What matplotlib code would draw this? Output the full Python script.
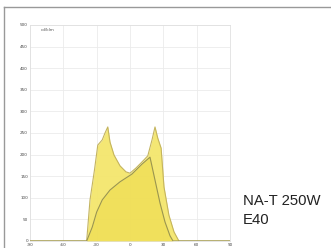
import matplotlib
matplotlib.use('Agg')
import matplotlib.pyplot as plt
from matplotlib.lines import Line2D

# luminous intensity distribution, angles in degrees, values in cd/klm
angles_c0 = [-90, -40, -39, -36, -32, -29, -25, -22.5, -20, -18, -14.4, -9, -3.6, 0,
             5.4, 10.8, 16, 19.8, 22.5, 25, 28, 30.6, 35, 39.6, 44, 45, 90]
values_c0 = [0, 0, 0, 95, 164, 222, 234, 250, 264, 229, 199, 174, 160, 157,
             169, 183, 197, 234, 264, 238, 215, 125, 60, 21, 0, 0, 0]

angles_c90 = [-90, -40, -39, -34, -30, -25, -18, -9, 1.8, 10.8, 18, 22.5, 27, 31.5, 36, 38.7, 40, 90]
values_c90 = [0, 0, 0, 32, 67, 95, 118, 137, 155, 178, 194, 141, 88, 44, 12, 0, 0, 0]

x_ticks = [-90, -60, -30, 0, 30, 60, 90]
y_ticks = [0, 50, 100, 150, 200, 250, 300, 350, 400, 450, 500]

lamp_label = 'NA-T 250W\nE40'

fig = plt.figure(figsize=(3.31, 2.48), dpi=100)
ax = fig.add_axes([30 / 331, 1 - 241 / 248, 200 / 331, 216 / 248])

ax.fill_between(angles_c0, values_c0, color='#f4e66c', alpha=0.95, lw=0, zorder=2)
ax.fill_between(angles_c90, values_c90, color='#ecd840', alpha=0.45, lw=0, zorder=3)
ax.plot(angles_c0, values_c0, color='#c4b45e', lw=0.8, zorder=4)
ax.plot(angles_c90, values_c90, color='#9a9550', lw=0.8, zorder=5)

ax.set_xlim(-90, 90)
ax.set_ylim(0, 500)
ax.set_xticks(x_ticks)
ax.set_yticks(y_ticks)
ax.set_xticklabels([str(t) for t in x_ticks], fontsize=3, color='#444444')
ax.set_yticklabels([str(t) for t in y_ticks], fontsize=3, color='#444444')
ax.tick_params(length=0, pad=1.5)
ax.grid(True, color='#ebebeb', lw=0.6, zorder=0)
for s in ax.spines.values():
    s.set_color('#e0e0e0')
    s.set_linewidth(0.6)
ax.text(-80, 492, 'cd/klm', fontsize=3, color='#555555', va='top', ha='left')

fig.text(243 / 331, 1 - 194 / 248, lamp_label, fontsize=10.7, family=['Liberation Sans', 'DejaVu Sans'],
         color='#222222', va='top', ha='left', linespacing=1.5)

# frame lines at the top and left edge
fig.add_artist(Line2D([4 / 331, 1], [1 - 7 / 248, 1 - 7 / 248], color='#999999', lw=1))
fig.add_artist(Line2D([4 / 331, 4 / 331], [0, 1 - 7 / 248], color='#999999', lw=1))

fig.savefig('out.png', dpi=100)
